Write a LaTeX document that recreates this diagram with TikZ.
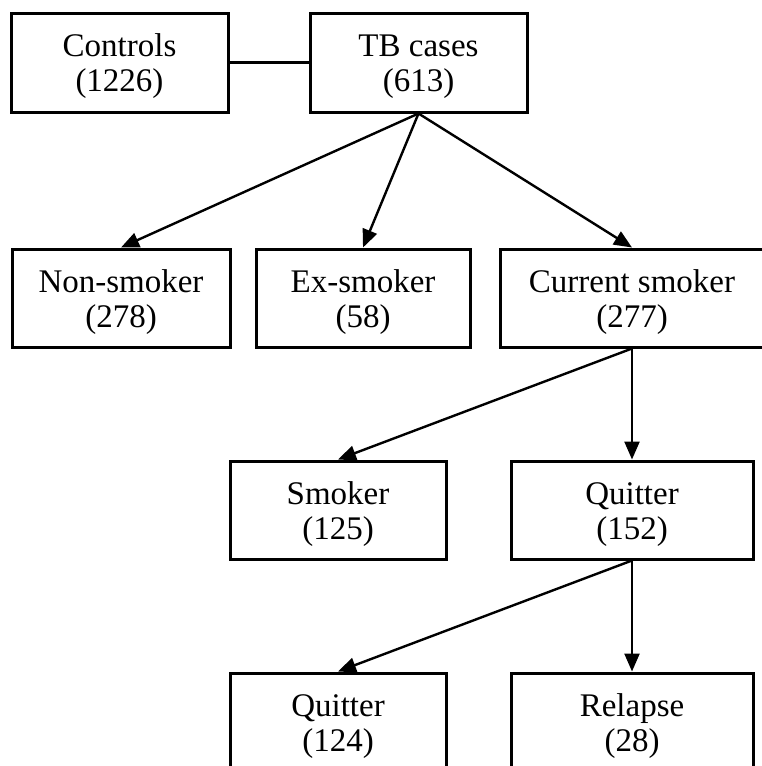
\documentclass[tikz,border=0pt]{standalone}
\usepackage{fontspec}
\setmainfont{Liberation Serif}
\usetikzlibrary{arrows.meta}

\begin{document}
\begin{tikzpicture}[x=1pt,y=-1pt,
  grp/.style={draw, line width=3pt, minimum width=216pt, minimum height=98pt,
    inner sep=0pt, align=center, font=\fontsize{33}{35}\selectfont},
  arr/.style={line width=2.4pt, -{Triangle[length=18pt,width=15pt]}}]
\useasboundingbox (0,0) rectangle (762,766);
% top row
\node[grp, minimum width=217pt, minimum height=99pt] (controls) at (119.5,62.5) {\rule{0pt}{31pt}Controls\\(1226)};
\node[grp, minimum width=217pt, minimum height=99pt] (tbcases) at (418.5,62.5) {\rule{0pt}{31pt}TB cases\\(613)};
\draw[line width=2.4pt] (controls) -- (tbcases);
% smoking status
\node[grp, minimum width=218pt] (nonsmoker) at (121,298) {\rule{0pt}{31pt}Non-smoker\\(278)};
\node[grp, minimum width=214pt] (exsmoker) at (363,298) {\rule{0pt}{31pt}Ex-smoker\\(58)};
\node[grp, minimum width=264pt] (current) at (632,298) {\rule{0pt}{31pt}Current smoker\\(277)};
\foreach \n in {nonsmoker, exsmoker, current} \draw[arr] (tbcases.south) -- (\n.north);
% current smokers
\node[grp] (smoker) at (338,510) {\rule{0pt}{31pt}Smoker\\(125)};
\node[grp, minimum width=242pt] (quitter) at (632,510) {\rule{0pt}{31pt}Quitter\\(152)};
\draw[arr] (current.south) -- (smoker.north);
\draw[arr] (current.south) -- (quitter.north);
% quitters
\node[grp] (stillquit) at (338,722) {\rule{0pt}{31pt}Quitter\\(124)};
\node[grp, minimum width=242pt] (relapse) at (632,722) {\rule{0pt}{31pt}Relapse\\(28)};
\draw[arr] (quitter.south) -- (stillquit.north);
\draw[arr] (quitter.south) -- (relapse.north);
\end{tikzpicture}
\end{document}
